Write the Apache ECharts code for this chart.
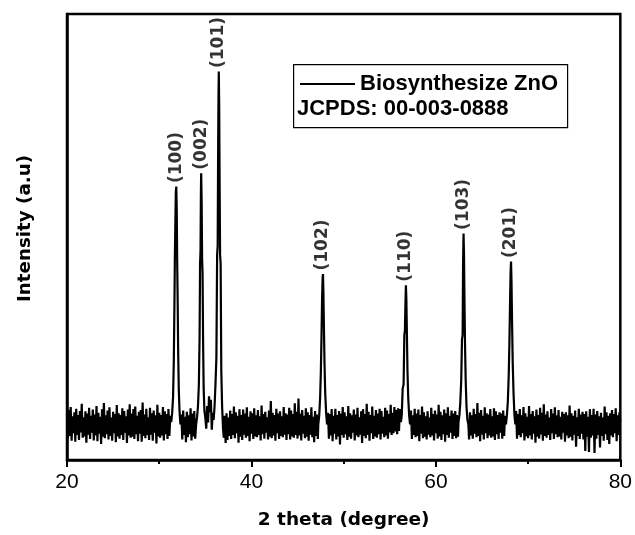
<!DOCTYPE html>
<html>
<head>
<meta charset="utf-8">
<script src="https://cdn.jsdelivr.net/npm/echarts@6/dist/echarts.min.js"></script>
<style>
html,body{margin:0;padding:0;background:#fff;}
#chart{width:635px;height:535px;}
</style>
</head>
<body>
<div id="chart"></div>
<script>
// ---- Data ----
const xTicks = [20, 40, 60, 80];
const seriesName = 'Biosynthesize ZnO';
const refCard = 'JCPDS: 00-003-0888';
const xTitle = '2 theta (degree)';
const yTitle = 'Intensity (a.u)';

// background noise sampled every 0.1 degree from 20.0 to 80.0 (one row = 1 degree)
const noiseStart = 20;
const noiseStep = 0.1;
const noise = [
  10.3, 4.8, 11.2, 5.4, 11.9, 4.3, 9.8, 6.0, 10.7, 4.1,
  11.5, 5.6, 10.1, 4.5, 11.0, 6.2, 12.6, 5.0, 9.6, 5.3,
  10.9, 3.9, 10.4, 5.7, 11.7, 4.7, 9.9, 6.1, 11.3, 4.4,
  10.2, 5.5, 12.1, 4.2, 10.6, 5.9, 9.7, 3.6, 11.4, 5.2,
  12.8, 4.9, 10.0, 5.8, 11.1, 4.6, 11.8, 5.4, 9.5, 4.3,
  10.8, 6.0, 10.3, 4.0, 12.3, 5.3, 10.5, 4.8, 10.1, 5.6,
  11.6, 4.5, 11.0, 6.1, 9.8, 3.8, 11.3, 5.5, 12.5, 5.0,
  10.4, 5.2, 11.4, 4.7, 12.0, 5.8, 9.9, 4.2, 10.8, 5.9,
  11.2, 4.1, 12.9, 5.4, 10.2, 4.9, 11.5, 5.6, 9.6, 4.5,
  11.7, 5.7, 10.5, 4.3, 11.1, 6.1, 10.0, 3.7, 12.4, 5.3,
  10.6, 5.0, 10.1, 5.5, 11.9, 4.4, 10.9, 5.8, 10.3, 4.7,
  11.4, 5.4, 9.9, 6.0, 10.0, 6.0, 10.0, 6.0, 10.0, 6.0,
  10.0, 6.0, 10.0, 6.0, 10.2, 4.6, 11.1, 5.6, 9.7, 4.0,
  10.8, 5.1, 10.0, 5.8, 11.6, 4.4, 10.4, 5.3, 11.0, 4.8,
  10.0, 6.0, 10.0, 6.0, 10.0, 6.0, 10.0, 6.0, 10.0, 6.0,
  10.0, 7.0, 12.1, 8.4, 14.3, 10.7, 13.5, 6.8, 10.6, 6.0,
  10.0, 6.0, 10.0, 6.0, 10.0, 6.0, 10.0, 6.0, 10.0, 6.0,
  5.0, 9.9, 3.8, 10.5, 4.5, 9.5, 5.4, 11.1, 4.7, 10.3,
  5.6, 12.0, 4.9, 10.7, 6.0, 9.9, 3.9, 11.4, 5.2, 10.1,
  4.5, 11.3, 5.7, 10.4, 5.0, 11.8, 5.4, 9.7, 4.2, 10.9,
  5.9, 10.5, 4.7, 11.6, 5.3, 10.0, 5.1, 11.2, 5.6, 9.8,
  4.4, 12.2, 5.8, 10.3, 4.8, 10.8, 6.1, 9.6, 4.6, 11.1,
  5.2, 13.2, 4.9, 10.6, 5.5, 10.1, 4.3, 11.5, 6.0, 10.4,
  4.7, 10.9, 5.4, 9.8, 5.1, 11.9, 5.7, 10.5, 4.5, 10.2,
  5.8, 11.7, 4.6, 11.1, 5.3, 10.3, 5.0, 12.7, 5.6, 10.8,
  4.8, 13.8, 5.5, 10.4, 4.4, 11.2, 5.9, 9.9, 4.9, 11.6,
  5.2, 10.7, 4.3, 10.1, 5.7, 11.8, 5.1, 9.7, 4.0, 11.0,
  5.4, 10.2, 4.7, 10.0, 6.0, 10.0, 6.0, 10.0, 6.0, 10.0,
  6.0, 10.0, 6.0, 10.6, 4.8, 10.3, 5.5, 11.4, 4.2, 9.9,
  5.9, 11.5, 4.6, 10.1, 5.3, 11.0, 3.5, 10.4, 5.6, 11.9,
  5.0, 10.7, 5.8, 9.8, 4.5, 12.1, 5.2, 10.5, 4.8, 10.0,
  6.1, 11.3, 4.4, 10.2, 5.5, 11.7, 5.1, 9.6, 5.7, 10.9,
  3.8, 11.4, 5.4, 10.3, 4.9, 12.6, 5.6, 10.8, 4.3, 10.1,
  6.0, 12.0, 4.7, 9.9, 5.3, 11.2, 5.0, 10.4, 5.8, 11.5,
  4.6, 11.0, 5.9, 9.7, 5.1, 11.7, 5.5, 11.1, 4.8, 10.3,
  6.2, 12.4, 5.6, 10.6, 6.0, 11.9, 6.4, 11.2, 5.8, 11.6,
  6.5, 11.4, 7.0, 10.0, 7.0, 10.0, 7.0, 10.0, 7.0, 10.0,
  6.0, 10.0, 6.0, 11.1, 4.7, 10.0, 5.6, 11.5, 5.1, 10.4,
  5.4, 11.3, 4.2, 10.1, 5.9, 12.0, 4.9, 10.7, 5.2, 9.8,
  4.6, 10.9, 5.7, 9.5, 5.1, 11.7, 5.5, 10.3, 4.4, 11.1,
  6.0, 10.2, 4.8, 12.4, 5.3, 10.8, 4.5, 10.0, 5.8, 11.3,
  4.1, 10.5, 5.6, 11.8, 5.0, 9.9, 6.1, 11.1, 4.7, 10.4,
  5.4, 11.0, 4.9, 10.1, 5.2, 10.0, 6.0, 10.0, 6.0, 10.0,
  6.0, 10.0, 6.0, 10.0, 6.0, 10.0, 4.6, 10.7, 5.5, 10.0,
  4.8, 11.5, 5.9, 10.3, 5.1, 12.8, 5.4, 10.6, 4.2, 11.2,
  5.7, 9.9, 4.6, 11.8, 6.0, 10.5, 4.9, 10.2, 5.5, 11.4,
  5.0, 9.8, 5.3, 11.6, 4.5, 10.9, 5.8, 10.1, 4.7, 10.7,
  6.1, 10.4, 4.8, 11.1, 5.4, 9.9, 6.0, 10.0, 6.0, 10.0,
  6.0, 10.0, 6.0, 10.0, 6.0, 10.0, 6.0, 11.0, 4.8, 10.3,
  5.6, 11.4, 5.1, 10.0, 6.0, 11.9, 4.4, 10.5, 5.3, 9.7,
  4.9, 12.1, 5.5, 10.3, 4.6, 11.0, 5.9, 9.8, 3.9, 11.3,
  5.2, 10.1, 4.8, 11.7, 5.7, 10.6, 4.3, 12.5, 5.4, 10.2,
  5.0, 10.9, 5.6, 9.5, 4.5, 11.4, 6.0, 10.4, 4.7, 11.8,
  5.8, 10.0, 5.1, 11.2, 5.3, 9.7, 4.6, 10.8, 6.1, 10.3,
  4.1, 10.7, 5.5, 10.0, 4.9, 12.2, 5.2, 10.5, 4.4, 9.9,
  5.7, 11.1, 3.0, 9.6, 5.4, 11.5, 4.7, 10.2, 5.9, 10.8,
  4.6, 10.3, 2.0, 10.9, 5.2, 9.7, 1.8, 11.4, 5.0, 10.1,
  5.5, 11.5, 1.6, 10.2, 4.8, 11.0, 5.6, 9.8, 2.8, 10.6,
  5.4, 9.5, 4.3, 12.0, 5.8, 10.7, 4.5, 9.9, 3.6, 10.5,
  5.5, 11.2, 5.1, 10.3, 6.0, 11.6, 4.2, 10.0, 5.6, 10.7,
  8.5
];

// diffraction peaks (2theta, intensity)
const hklLabels = ['(100)', '(002)', '(101)', '(102)', '(110)', '(103)', '(201)'];
const peak100X = [31.3, 31.4, 31.5, 31.58, 31.65, 31.7, 31.75, 31.8, 31.85, 31.9, 31.95, 32.0, 32.05, 32.12, 32.2, 32.3];
const peak100Y = [8.5, 10.5, 14, 22, 35, 46, 53, 60, 61.3, 56, 44, 36, 25, 16, 11, 8];
const peak002X = [34.0, 34.1, 34.2, 34.3, 34.38, 34.43, 34.48, 34.52, 34.55, 34.6, 34.65, 34.7, 34.76, 34.82, 34.9, 35.0];
const peak002Y = [8, 9.5, 12, 17, 28, 44, 47, 60, 64.3, 58, 45, 42, 26, 16, 11, 9.5];
const peak101X = [35.9, 36.0, 36.1, 36.2, 36.28, 36.34, 36.39, 36.43, 36.46, 36.5, 36.55, 36.6, 36.66, 36.73, 36.82, 36.92, 37.0];
const peak101Y = [9, 12, 17, 23, 46, 48, 70, 82, 87.1, 80, 62, 46, 44, 20, 12, 7, 5];
const peak102X = [47.25, 47.35, 47.45, 47.53, 47.6, 47.66, 47.72, 47.76, 47.8, 47.86, 47.92, 48.0, 48.1, 48.2];
const peak102Y = [8, 10, 14, 20, 28, 36, 41, 41.7, 38, 30, 22, 15, 10.5, 8];
const peak110X = [56.2, 56.3, 56.4, 56.5, 56.58, 56.64, 56.7, 56.75, 56.8, 56.86, 56.92, 57.0, 57.1, 57.2];
const peak110Y = [8.5, 10, 16, 17, 28, 29, 35, 39.2, 36, 28, 20, 14, 10, 8];
const peak103X = [62.45, 62.55, 62.65, 62.75, 62.83, 62.9, 62.95, 63.0, 63.05, 63.1, 63.16, 63.23, 63.32, 63.42, 63.52];
const peak103Y = [8.5, 10, 13, 18, 27, 28, 44, 50.8, 46, 36, 26, 18, 12, 9, 8];
const peak201X = [67.6, 67.7, 67.8, 67.9, 67.98, 68.04, 68.1, 68.15, 68.2, 68.26, 68.33, 68.42, 68.52, 68.62];
const peak201Y = [8, 10, 13, 19, 27, 35, 42, 44.5, 40, 31, 22, 15, 10, 8];

// ---- Build series ----
const peakSets = [
  [peak100X, peak100Y], [peak002X, peak002Y], [peak101X, peak101Y],
  [peak102X, peak102Y], [peak110X, peak110Y], [peak103X, peak103Y], [peak201X, peak201Y]
];
const inPeak = x => peakSets.some(([px]) => x >= px[0] && x <= px[px.length - 1]);
const pts = [];
noise.forEach((v, i) => {
  const x = +(noiseStart + i * noiseStep).toFixed(2);
  if (!inPeak(x)) pts.push([x, v]);
});
peakSets.forEach(([px, py]) => px.forEach((x, j) => pts.push([x, py[j]])));
pts.sort((a, b) => a[0] - b[0]);

const labelData = peakSets.map(([px, py], k) => {
  let m = 0;
  py.forEach((v, j) => { if (v > py[m]) m = j; });
  return { name: hklLabels[k], value: [px[m], py[m]] };
});

const chart = echarts.init(document.getElementById('chart'), null, { renderer: 'canvas' });
const option = {
  animation: false,
  backgroundColor: '#fff',
  grid: {
    left: 67, right: 13.5, top: 14, bottom: 75,
    show: true, borderColor: '#000', borderWidth: 2.5, backgroundColor: 'transparent'
  },
  legend: {
    data: [{ name: seriesName, icon: 'rect' }],
    left: 295, top: 68,
    itemWidth: 55, itemHeight: 2, itemGap: 5,
    itemStyle: { color: '#000' },
    textStyle: { fontFamily: 'Liberation Sans', fontWeight: 'bold', fontSize: 22, color: '#000' }
  },
  xAxis: {
    type: 'value', min: xTicks[0], max: xTicks[xTicks.length - 1], interval: 20,
    name: xTitle, nameLocation: 'middle', nameGap: 51,
    nameTextStyle: { fontFamily: 'DejaVu Sans', fontWeight: 'bold', fontSize: 18.5, color: '#000' },
    axisLine: { show: true, lineStyle: { color: '#000', width: 2.5 } },
    axisTick: { show: true, inside: false, length: 7, lineStyle: { color: '#000', width: 2 } },
    minorTick: { show: true, splitNumber: 2, length: 4, lineStyle: { color: '#000', width: 2 } },
    splitLine: { show: false },
    axisLabel: { fontFamily: 'Liberation Sans', fontSize: 21, color: '#000', margin: 12 }
  },
  yAxis: {
    type: 'value', min: 0, max: 100,
    name: yTitle, nameLocation: 'middle', nameGap: 33,
    nameTextStyle: { fontFamily: 'DejaVu Sans', fontWeight: 'bold', fontSize: 18.3, color: '#000', padding: [0, 0, 0, 17] },
    axisLine: { show: true, lineStyle: { color: '#000', width: 2.5 } },
    axisTick: { show: false },
    axisLabel: { show: false },
    splitLine: { show: false }
  },
  graphic: [
    { type: 'rect', left: 293, top: 64, shape: { width: 274, height: 63 },
      style: { fill: 'transparent', stroke: '#000', lineWidth: 1.2 }, z: 100 },
    { type: 'text', left: 297, top: 98,
      style: { text: refCard, fill: '#000', font: 'bold 22px "Liberation Sans"' }, z: 100 }
  ],
  series: [
    {
      name: seriesName, type: 'line', data: pts,
      symbol: 'none', showSymbol: false, sampling: null,
      lineStyle: { color: '#000', width: 2.2 }, itemStyle: { color: '#000' },
      z: 3
    },
    {
      name: 'hkl', type: 'scatter', data: labelData,
      symbolSize: 1, itemStyle: { color: 'rgba(0,0,0,0)' },
      label: {
        show: true, formatter: '{b}', position: 'top', distance: 3,
        rotate: 90, align: 'left', verticalAlign: 'middle',
        fontFamily: 'DejaVu Sans', fontWeight: 'bold', fontSize: 17, color: '#000'
      },
      silent: true, z: 4
    }
  ]
};
chart.setOption(option);
</script>
</body>
</html>
